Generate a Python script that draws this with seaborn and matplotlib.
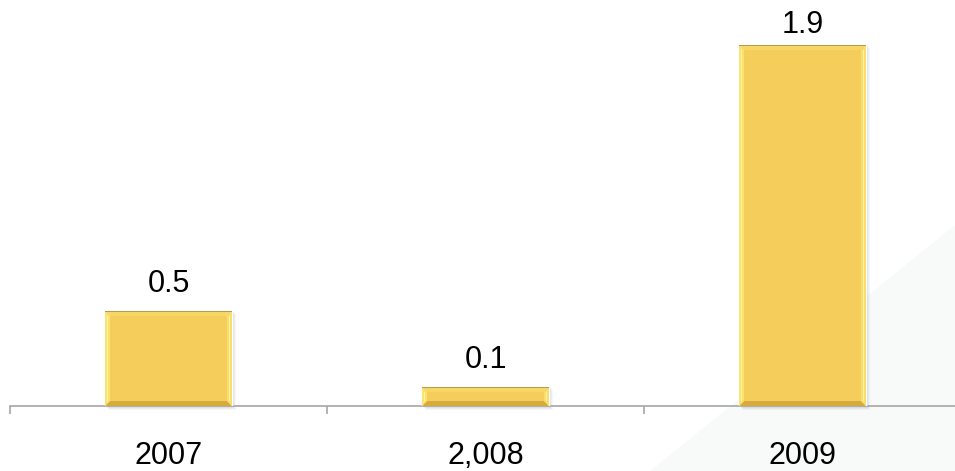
import matplotlib
matplotlib.use("Agg")
import matplotlib.pyplot as plt
from matplotlib.patches import Polygon
import seaborn as sns
import pandas as pd

# Values per year
years = ["2007", "2,008", "2009"]
values = [0.5, 0.1, 1.9]
value_labels = ["0.5", "0.1", "1.9"]

sns.set_theme(style="white")
plt.rcParams["font.family"] = ["Liberation Sans", "DejaVu Sans"]

W, H, DPI = 955, 471, 100
fig = plt.figure(figsize=(W / DPI, H / DPI), dpi=DPI)
fig.patch.set_facecolor("white")

# faint diagonal backdrop in the lower right corner
bg = fig.add_axes([0, 0, 1, 1], zorder=0)
bg.set_xlim(0, 1)
bg.set_ylim(0, 1)
bg.axis("off")
bg.add_patch(Polygon([(650 / W, 0), (1, 0), (1, (H - 225) / H)], closed=True,
                     facecolor="#f8f9f9", edgecolor="none"))

ax = fig.add_axes([10 / W, 65 / H, 951 / W, 406 / H], zorder=1)
ax.set_facecolor("none")

df = pd.DataFrame({"year": years, "value": values})
sns.barplot(data=df, x="year", y="value", color="#f5cd5a", width=0.4,
            saturation=1, ax=ax, zorder=3)

ax.set_xlim(-0.5, 2.5)
ax.set_ylim(0, 2.137)
ax.set_xlabel("")
ax.set_ylabel("")
ax.set_yticks([])

for s in ["left", "right", "top"]:
    ax.spines[s].set_visible(False)
ax.spines["bottom"].set_color("#a6a6a6")
ax.spines["bottom"].set_linewidth(1.2)
ax.spines["bottom"].set_zorder(2)

# category boundaries carry the tick marks, labels sit at the centres
ax.set_xticks([-0.5, 0.5, 1.5, 2.5])
ax.set_xticklabels([])
ax.tick_params(axis="x", which="major", direction="out", length=6,
               width=1.2, color="#a6a6a6", bottom=True)
ax.set_xticks([0, 1, 2], minor=True)
ax.set_xticklabels(years, minor=True)
ax.tick_params(axis="x", which="minor", length=0, pad=25,
               labelsize=22, labelcolor="black")

fig.canvas.draw()
inv = ax.transData.inverted()


def poly(points, color, z, alpha=1.0):
    pts = inv.transform(points)
    ax.add_patch(Polygon(pts, closed=True, facecolor=color, edgecolor="none",
                         zorder=z, alpha=alpha, clip_on=False))


# highest baseline a value label may use, in display pixels
label_cap = H - 33

# bevelled gold bars with a soft drop shadow
for bar, label in zip(ax.patches[:len(values)], value_labels):
    x0d, y0d = bar.get_x(), bar.get_y()
    x1d, y1d = x0d + bar.get_width(), y0d + bar.get_height()
    (x0, y0), (x1, y1) = ax.transData.transform([(x0d, y0d), (x1d, y1d)])

    for off, a in [(4, 0.06), (3, 0.08), (2, 0.10)]:
        poly([(x0 + off, y0 - off), (x1 + off, y0 - off),
              (x1 + off, y1 - off + 1), (x0 + off, y1 - off + 1)],
             "#7a7a7a", 2, alpha=a)

    b = min(5, (y1 - y0) / 2.5)
    poly([(x0, y0), (x1, y0), (x1 - b, y0 + b), (x0 + b, y0 + b)], "#d6ab3c", 4)
    poly([(x0, y1), (x1, y1), (x1 - b, y1 - b), (x0 + b, y1 - b)], "#f7d566", 4)
    poly([(x0, y0), (x0 + b, y0 + b), (x0 + b, y1 - b), (x0, y1)], "#fbe26c", 4)
    poly([(x1, y0), (x1 - b, y0 + b), (x1 - b, y1 - b), (x1, y1)], "#f9de6e", 4)
    # highlight lines along the sides and the dark rim on top
    poly([(x0 + 1.5, y0 + b), (x0 + 3, y0 + b), (x0 + 3, y1 - b), (x0 + 1.5, y1 - b)],
         "#fff4a0", 5)
    poly([(x1 - 3, y0 + b), (x1 - 1.5, y0 + b), (x1 - 1.5, y1 - b), (x1 - 3, y1 - b)],
         "#fff4a0", 5)
    poly([(x0, y1 - 1.2), (x1, y1 - 1.2), (x1, y1), (x0, y1)], "#b99b48", 5)

    gap_px = min(19, label_cap - y1)
    ax.annotate(label, xy=(x0d + bar.get_width() / 2, y1d),
                xytext=(0, gap_px * 72 / DPI), textcoords="offset points",
                ha="center", va="baseline", fontsize=22, color="black",
                zorder=6, annotation_clip=False)

fig.savefig("out.png", dpi=DPI, facecolor="white")
